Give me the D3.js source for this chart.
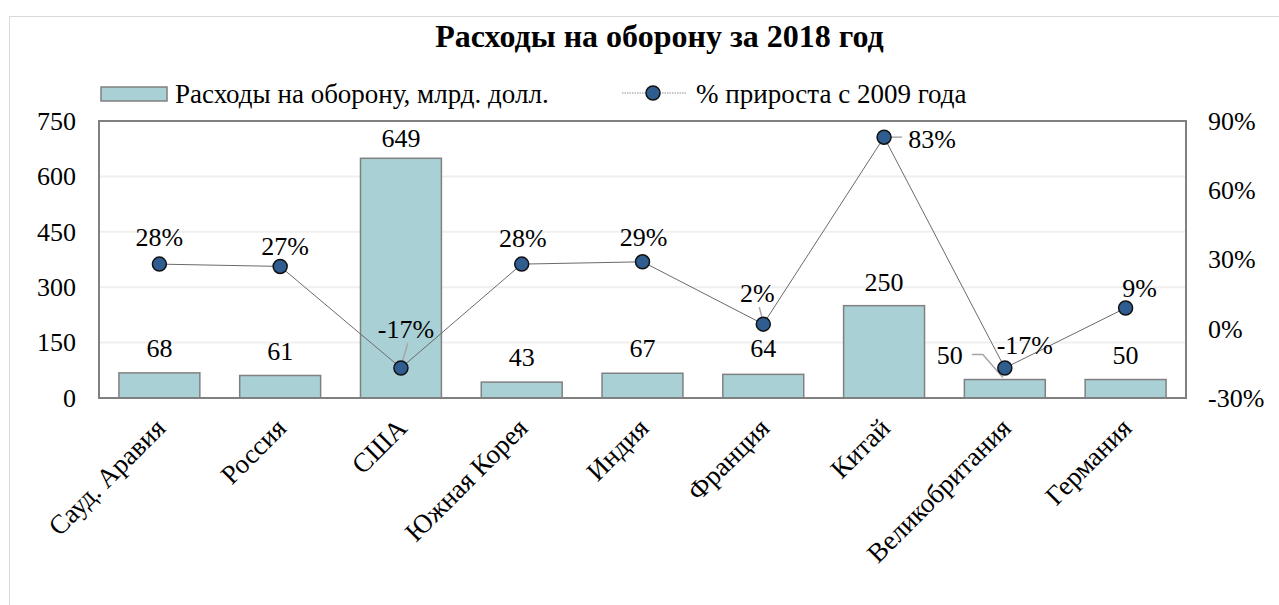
<!DOCTYPE html>
<html><head><meta charset="utf-8">
<script src="https://cdn.jsdelivr.net/npm/d3@7"></script>
<style>
body{margin:0;background:#fff}
svg{display:block}
text{font-family:"Liberation Serif","Times New Roman",serif;fill:#000}
</style>
</head><body>
<svg id="c" width="1279" height="605" font-family="Liberation Serif, Times New Roman, serif"></svg>
<script>
// ---- data ----
const title = "Расходы на оборону за 2018 год";
const seriesNames = ["Расходы на оборону, млрд. долл.", "% прироста с 2009 года"];
const categories = ["Сауд. Аравия","Россия","США","Южная Корея","Индия","Франция","Китай","Великобритания","Германия"];
const spending = [68, 61, 649, 43, 67, 64, 250, 50, 50];
const growth = [28, 27, -17, 28, 29, 2, 83, -17, 9];
const leftTicks = [0, 150, 300, 450, 600, 750];
const rightTicks = [-30, 0, 30, 60, 90];

// ---- layout (positions / styles) ----
const P = {left: 99, top: 121, right: 1186, bottom: 398};
const FONT = 26, FONT_TXT = 27;
const FAM = '"Liberation Serif","Times New Roman",serif';
const barFill = "#a9d0d5", barStroke = "#808080";
const dotFill = "#2f5d8f";
const leaderColor = "#a6a6a6";
// label offsets relative to mark [dx, dy] (label centre)
const barLabelOff = [[0,-25],[0,-25],[0,-20],[0,-25],[0,-25],[0,-26],[0,-24],[-55,-25],[0,-25]];
const pctLabelOff = [[0,-27],[5,-21],[5,-39],[1,-26],[1,-25],[-6,-31],[48,2],[20,-23],[14,-20]];

const svg = d3.select("#c");

// outer frame
svg.append("rect").attr("x",9.5).attr("y",16.5).attr("width",1300).attr("height",700)
  .attr("fill","none").attr("stroke","#d9d9d9").attr("stroke-width",1);

const x = d3.scaleBand().domain(categories).range([P.left, P.right]).paddingInner(0.33).paddingOuter(0.165);
const yL = d3.scaleLinear().domain([0, 750]).range([P.bottom, P.top]);
const yR = d3.scaleLinear().domain([-30, 90]).range([P.bottom, P.top]);

// gridlines
svg.append("g").selectAll("line").data(leftTicks.filter(d => d > 0 && d < 750)).join("line")
  .attr("x1", P.left).attr("x2", P.right).attr("y1", d => yL(d)).attr("y2", d => yL(d))
  .attr("stroke", "#efefef").attr("stroke-width", 2);

// title
svg.append("text").attr("x", 659.5).attr("y", 47).attr("text-anchor","middle")
  .style("font-family", FAM).style("font-size","32px").style("font-weight","bold").text(title);

function styleTicks(g, size) {
  g.attr("font-family", null).attr("font-size", null);
  g.select(".domain").remove();
  g.selectAll("text").style("font-size", size + "px").style("font-family", FAM).attr("fill", "#000");
}

// left axis
const axL = d3.axisLeft(yL).tickValues(leftTicks).tickSize(0).tickPadding(23).tickFormat(d3.format("d"));
const gL = svg.append("g").attr("transform",`translate(${P.left},0)`).call(axL);
styleTicks(gL, FONT);

// right axis
const axR = d3.axisRight(yR).tickValues(rightTicks).tickSize(0).tickPadding(22).tickFormat(d => d + "%");
const gR = svg.append("g").attr("transform",`translate(${P.right},0)`).call(axR);
styleTicks(gR, FONT);

// bottom axis (category labels)
const axB = d3.axisBottom(x).tickSize(0).tickPadding(0);
const gB = svg.append("g").attr("transform",`translate(0,${P.bottom})`).call(axB);
styleTicks(gB, FONT_TXT);
gB.selectAll(".tick text")
  .attr("text-anchor","end").attr("dy","0.35em")
  .attr("transform","translate(1,25) rotate(-45)").attr("y",0).attr("x",0);

// bars
const bw = x.bandwidth();
svg.append("g").selectAll("rect").data(spending).join("rect")
  .attr("x", (d,i) => x(categories[i])).attr("width", bw)
  .attr("y", d => yL(d)).attr("height", d => yL(0) - yL(d))
  .attr("fill", barFill).attr("stroke", barStroke).attr("stroke-width", 1.5);

// plot frame
svg.append("rect").attr("x", P.left).attr("y", P.top).attr("width", P.right - P.left).attr("height", P.bottom - P.top)
  .attr("fill","none").attr("stroke","#808080").attr("stroke-width",2);

const cx = i => x(categories[i]) + bw/2;

// bar labels
svg.append("g").selectAll("text").data(spending).join("text")
  .attr("x", (d,i) => cx(i) + barLabelOff[i][0])
  .attr("y", (d,i) => yL(d) + barLabelOff[i][1])
  .attr("dy","0.35em").attr("text-anchor","middle")
  .style("font-family", FAM).style("font-size", FONT+"px")
  .text(d => d);

// leader for UK bar label
{
  const i = 7;
  const lx = cx(i) + barLabelOff[i][0] + 22, ly = yL(spending[i]) + barLabelOff[i][1];
  svg.append("polyline").attr("points", `${lx},${ly} ${lx+11},${ly} ${cx(i)-2},${yL(spending[i])-2}`)
    .attr("fill","none").attr("stroke", leaderColor).attr("stroke-width",1.5);
}

// line
const line = d3.line().x((d,i) => cx(i)).y(d => yR(d));
svg.append("path").datum(growth).attr("d", line).attr("fill","none")
  .attr("stroke","#6b6b6b").attr("stroke-width",1);

// leaders for pct labels
[2,5].forEach(i => {
  const px = cx(i), py = yR(growth[i]);
  const lx = px + pctLabelOff[i][0], ly = py + pctLabelOff[i][1];
  svg.append("line").attr("x1", lx + 2).attr("y1", ly + 14).attr("x2", px).attr("y2", py - 2)
    .attr("stroke", leaderColor).attr("stroke-width", 1.5);
});
{
  const i = 6, px = cx(i), py = yR(growth[i]);
  svg.append("line").attr("x1", px).attr("y1", py).attr("x2", px + 18).attr("y2", py)
    .attr("stroke", leaderColor).attr("stroke-width", 1.5);
}

// markers
svg.append("g").selectAll("circle").data(growth).join("circle")
  .attr("cx", (d,i) => cx(i)).attr("cy", d => yR(d)).attr("r", 7)
  .attr("fill", dotFill).attr("stroke","#111").attr("stroke-width",1.5);

// pct labels
svg.append("g").selectAll("text").data(growth).join("text")
  .attr("x", (d,i) => cx(i) + pctLabelOff[i][0])
  .attr("y", (d,i) => yR(d) + pctLabelOff[i][1])
  .attr("dy","0.35em").attr("text-anchor","middle")
  .style("font-family", FAM).style("font-size", FONT+"px")
  .text(d => d + "%");

// legend
const lg = svg.append("g");
lg.append("rect").attr("x",101).attr("y",87).attr("width",66).attr("height",14)
  .attr("fill", barFill).attr("stroke", barStroke).attr("stroke-width",1.5);
lg.append("text").attr("x",175).attr("y",94).attr("dy","0.35em")
  .style("font-family", FAM).style("font-size",FONT_TXT+"px").text(seriesNames[0]);
lg.append("line").attr("x1",622).attr("x2",687).attr("y1",93).attr("y2",93)
  .attr("stroke","#8c8c8c").attr("stroke-width",1).attr("stroke-dasharray","1.5,1");
lg.append("circle").attr("cx",653).attr("cy",93).attr("r",7)
  .attr("fill", dotFill).attr("stroke","#111").attr("stroke-width",1.5);
lg.append("text").attr("x",696).attr("y",94).attr("dy","0.35em")
  .style("font-family", FAM).style("font-size",FONT_TXT+"px").text(seriesNames[1]);
</script>
</body></html>
